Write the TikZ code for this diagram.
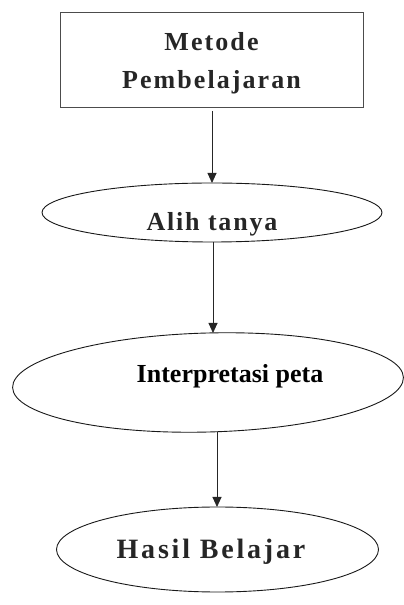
\documentclass[tikz,border=0pt]{standalone}
\usepackage{fontspec}
\setmainfont{Liberation Serif}
\usetikzlibrary{shapes.geometric,arrows.meta}
\begin{document}
\begin{tikzpicture}[x=1pt,y=1pt,
  lbl/.style={text=black!85, align=center, inner sep=0pt},
  oval/.style={draw=black!90, line width=0.9pt, ellipse, inner sep=0pt},
  conn/.style={draw=black!85, line width=0.9pt, -{Triangle[length=10pt,width=9pt]}}]
\useasboundingbox (0,0) rectangle (404,605);
% box
\node[draw=black!70, line width=0.9pt, minimum width=303pt, minimum height=95pt, inner sep=0pt] (metode) at (211.5,545.5) {};
\node[lbl, font=\fontsize{26}{38}\selectfont\bfseries\addfontfeature{LetterSpace=8}] (metodetxt) at (211.5,542) {Metode\\Pembelajaran};
% ellipses
\node[oval, minimum width=340pt, minimum height=59pt] (alih) at (212,392.5) {};
\node[lbl, font=\fontsize{26}{30}\selectfont\bfseries\addfontfeature{LetterSpace=7}] (alihtxt) at (212,381) {Alih tanya};
\node[oval, minimum width=391pt, minimum height=99pt, rotate=1.5] (interp) at (208,222.5) {};
\node[lbl, font=\fontsize{26}{30}\selectfont\bfseries, text=black] (interptxt) at (230,229) {Interpretasi peta};
\node[oval, minimum width=322pt, minimum height=85pt] (hasil) at (217.5,55.5) {};
\node[lbl, font=\fontsize{28}{30}\selectfont\bfseries\addfontfeature{LetterSpace=10}] (hasiltxt) at (211,53) {Hasil Belajar};
% connectors
\coordinate (a1s) at (212,494);
\coordinate (a1e) at (212,422);
\coordinate (a2s) at (213,363);
\coordinate (a2e) at (213,272);
\coordinate (a3s) at (217,173);
\coordinate (a3e) at (217,98);
\draw[conn] (a1s) -- (a1e);
\draw[conn] (a2s) -- (a2e);
\draw[conn] (a3s) -- (a3e);
\end{tikzpicture}
\end{document}
